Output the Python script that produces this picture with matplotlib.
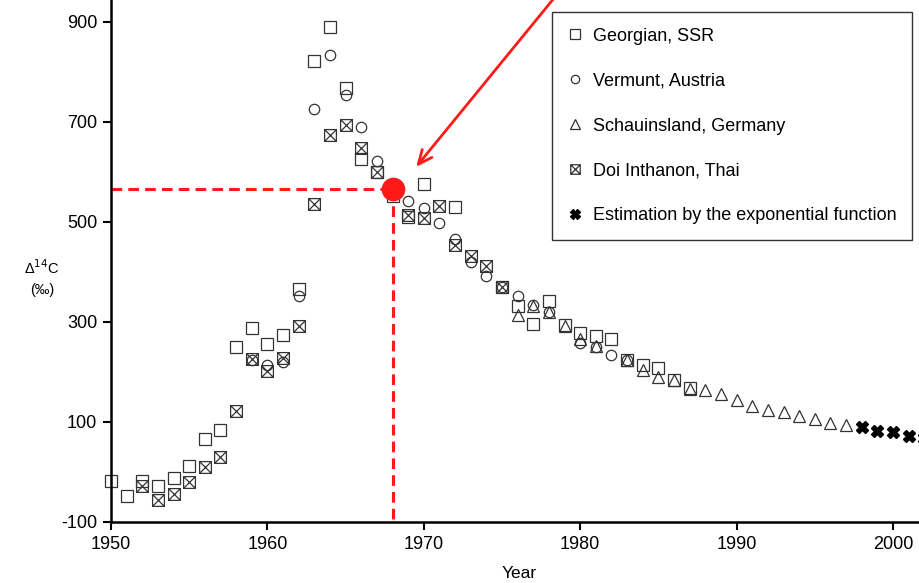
import matplotlib
matplotlib.use("Agg")
import matplotlib.pyplot as plt
from matplotlib.path import Path

plt.rcParams['font.family'] = ['Liberation Sans', 'DejaVu Sans']
plt.rcParams['axes.unicode_minus'] = False

# Georgian, SSR (squares)
geo_year = [1950, 1951, 1952, 1953, 1954, 1955, 1956, 1957, 1958, 1959, 1960,
            1961, 1962, 1963, 1964, 1965, 1966, 1967, 1968, 1969, 1970, 1972,
            1975, 1976, 1977, 1978, 1979, 1980, 1981, 1982, 1983, 1984, 1985,
            1986, 1987]
geo_val = [-18, -48, -17, -28, -11, 13, 67, 85, 250, 289, 257,
           274, 367, 822, 890, 768, 627, 600, 552, 510, 577, 530,
           370, 333, 297, 343, 295, 279, 272, 266, 225, 214, 209,
           184, 168]

# Vermunt, Austria (circles)
ver_year = [1959, 1960, 1961, 1962, 1963, 1964, 1965, 1966, 1967, 1969, 1970,
            1971, 1972, 1973, 1974, 1975, 1976, 1977, 1978, 1980, 1981, 1982,
            1983]
ver_val = [224, 215, 221, 353, 727, 835, 754, 690, 622, 543, 529,
           499, 467, 421, 392, 370, 352, 334, 320, 258, 251, 235,
           225]

# Schauinsland, Germany (triangles)
sch_year = [1976, 1977, 1978, 1979, 1980, 1981, 1983, 1984, 1985, 1986, 1987,
            1988, 1989, 1990, 1991, 1992, 1993, 1994, 1995, 1996, 1997]
sch_val = [315, 333, 320, 293, 267, 252, 225, 204, 190, 184, 167,
           164, 157, 144, 133, 125, 120, 113, 107, 99, 95]

# Doi Inthanon, Thai (crossed squares)
doi_year = [1952, 1953, 1954, 1955, 1956, 1957, 1958, 1959, 1960, 1961, 1962,
            1963, 1964, 1965, 1966, 1967, 1969, 1970, 1971, 1972, 1973, 1974,
            1975]
doi_val = [-28, -55, -43, -20, 11, 31, 123, 226, 203, 229, 292,
           537, 675, 694, 649, 601, 515, 509, 532, 455, 432, 412,
           370]

# Estimation by the exponential function
est_year = [1998, 1999, 2000, 2001, 2002]
est_val = [90, 83, 80, 73, 68]

# highlighted point and arrow
hl_year, hl_val = 1968, 566
arrow_head = (1969.4, 606)
arrow_tail = (1978.7, 962)

crossed_square = Path(
    [(-1, -1), (1, -1), (1, 1), (-1, 1), (-1, -1), (-1, 1), (1, -1), (1, 1), (-1, -1)],
    [Path.MOVETO, Path.LINETO, Path.LINETO, Path.LINETO, Path.CLOSEPOLY,
     Path.MOVETO, Path.LINETO, Path.MOVETO, Path.LINETO])

W, H = 919, 583
fig = plt.figure(figsize=(W / 100, H / 100), dpi=100)
ax = fig.add_axes([111 / W, 61 / H, (W - 111) / W, 522 / H])

mec = '#333333'
common = dict(linestyle='none', mfc='none', mec=mec, mew=0.9, clip_on=False)
ax.plot(geo_year, geo_val, marker='s', ms=8.5, label='Georgian, SSR', **common)
ax.plot(ver_year, ver_val, marker='o', ms=7.5, label='Vermunt, Austria', **common)
ax.plot(sch_year, sch_val, marker='^', ms=8.5, label='Schauinsland, Germany', **common)
ax.plot(doi_year, doi_val, marker=crossed_square, ms=8.5, label='Doi Inthanon, Thai', **common)
ax.plot(est_year, est_val, linestyle='none', marker='X', ms=8.5, color='black',
        mec='black', label='Estimation by the exponential function', clip_on=False)

# red guide lines and point
red = '#ff1a1a'
ax.plot([1950, hl_year], [hl_val, hl_val], color=red, lw=2.2, ls=(0, (3.5, 2)))
ax.plot([hl_year, hl_year], [hl_val, -100], color=red, lw=2.2, ls=(0, (3.5, 2)))
ax.plot([hl_year], [hl_val], marker='o', ms=16, color=red, zorder=5)
ax.annotate('', xy=arrow_head, xytext=arrow_tail,
            arrowprops=dict(arrowstyle='->,head_length=1.0,head_width=0.45',
                            color=red, lw=2),
            annotation_clip=False)

ax.set_xlim(1950, 1950 + (W - 111) / 15.64)
ax.set_ylim(-100, -100 + 522 * 2)
ax.set_xticks([1950, 1960, 1970, 1980, 1990, 2000])
ax.set_yticks([-100, 100, 300, 500, 700, 900])
ax.spines['top'].set_visible(False)
ax.spines['right'].set_visible(False)
for s in ('left', 'bottom'):
    ax.spines[s].set_linewidth(1.8)
ax.tick_params(direction='out', length=6, width=1.5, labelsize=13, pad=4)

fig.text(519 / W, 1 - 573 / H, 'Year', ha='center', va='center', fontsize=12.5)
fig.text(42 / W, 1 - 268 / H, 'Δ$^{14}$C', ha='center', va='center', fontsize=10.5)
fig.text(42 / W, 1 - 290 / H, '(‰)', ha='center', va='center', fontsize=10.5)

leg = ax.legend(loc='upper right', bbox_to_anchor=(912 / W, 1 - 12 / H),
                bbox_transform=fig.transFigure, borderaxespad=0, fontsize=13,
                frameon=True, fancybox=False, framealpha=1, edgecolor='#333333',
                handlelength=0.8, handletextpad=0.6, labelspacing=1.55,
                borderpad=0.86, markerscale=0.8)
leg.get_frame().set_linewidth(1.0)

fig.savefig('out.png', dpi=100)
